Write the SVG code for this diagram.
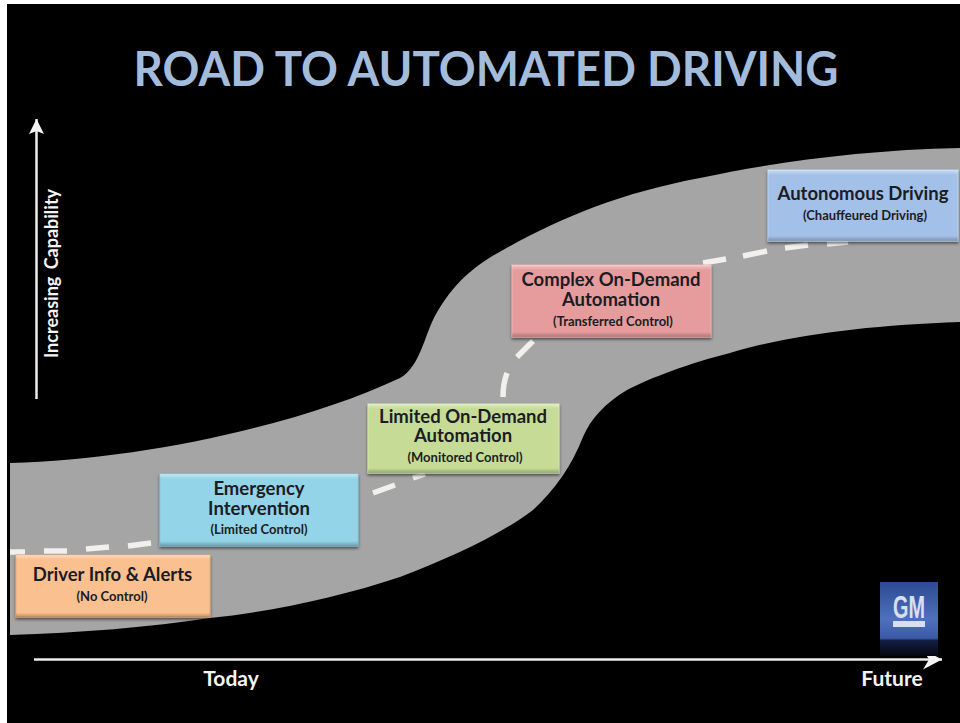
<svg xmlns="http://www.w3.org/2000/svg" width="960" height="723" viewBox="0 0 960 723">
<defs>
<filter id="blur" x="-5%" y="-5%" width="110%" height="110%"><feGaussianBlur stdDeviation="0.6"/></filter>
<filter id="shadow" x="-5%" y="-10%" width="110%" height="125%"><feDropShadow dx="0" dy="2" stdDeviation="1.5" flood-color="#000" flood-opacity="0.55"/></filter>
<linearGradient id="gm" x1="0" y1="0" x2="0" y2="1"><stop offset="0" stop-color="#2c4a92"/><stop offset="0.5" stop-color="#4f70bc"/><stop offset="0.76" stop-color="#3a5aa8"/><stop offset="0.79" stop-color="#141f44"/><stop offset="1" stop-color="#05070f"/></linearGradient>
<linearGradient id="sheen" x1="0" y1="0" x2="0" y2="1"><stop offset="0" stop-color="#fff" stop-opacity="0.45"/><stop offset="0.07" stop-color="#fff" stop-opacity="0"/><stop offset="0.93" stop-color="#000" stop-opacity="0"/><stop offset="1" stop-color="#000" stop-opacity="0.25"/></linearGradient>
<marker id="ahv" markerUnits="userSpaceOnUse" markerWidth="20" markerHeight="20" refX="16" refY="10" orient="auto"><path d="M16 10L1 2.5L4 10L1 17.5Z" fill="#f4f4f4"/></marker>
<marker id="ahh" markerUnits="userSpaceOnUse" markerWidth="24" markerHeight="24" refX="21" refY="12" orient="auto"><path d="M21 12L2 2L8 12L2 22Z" fill="#f4f4f4"/></marker>
<style>
.t{font-family:Lato,"Open Sans","Liberation Sans",sans-serif;font-weight:700;text-anchor:middle}
.h{font-size:18.5px;fill:#1c1c24}
.s{font-size:13px;fill:#1c1c24}
.w{font-size:21px;fill:#f4f4f4}
.box{stroke-width:1;filter:url(#shadow)}
.sh{fill:url(#sheen)}
</style>
</defs>
<rect width="960" height="723" fill="#fff"/>
<rect x="7" y="4" width="953" height="719" fill="#000"/>
<path id="road" fill="#a5a5a5" d="M10 463 C140 460 300 425 400 378 C418 368 424 340 432 322 C450 285 475 265 503 250 C560 218 620 193 700 178 C770 163 860 150 960 148 L960 322 C870 325 790 335 730 353 C690 363 650 378 627 390 C605 403 590 420 583 437 C572 465 555 490 533 510 C500 535 450 558 400 577 C340 597 270 612 210 618 C150 627 80 633 10 635 Z"/>
<g id="connectors" fill="none" stroke="#f2f0ec" stroke-width="5.5" filter="url(#blur)">
<path d="M10 552 H25 M44 551 H67 M86 549 L109 547 M128 546 L151 543"/>
<path d="M373 493 L395 485 M413 478 L425 474"/>
<path d="M503 397 C503 388 504 381 507 373 M517 357 L533 341"/>
<path d="M703 263 L726 259 M743 256 L767 251 M785 248 L808 245 M827 244 L848 242"/>
</g>
<g id="axes" fill="none" stroke="#ececec" stroke-width="2.5">
<path d="M36.500 399 V119" marker-end="url(#ahv)"/>
<path d="M34 659.500 H942" marker-end="url(#ahh)"/>
</g>
<text class="t" x="486" y="86" font-size="47" fill="#a4bcdc" textLength="705" lengthAdjust="spacingAndGlyphs">ROAD TO AUTOMATED DRIVING</text>
<text class="t w" transform="translate(58,273.500) rotate(-90)" style="font-size:18px;word-spacing:3px">Increasing Capability</text>
<text class="t w" x="231" y="686">Today</text>
<text class="t w" x="892" y="686">Future</text>
<g id="node-driver">
<rect class="box" x="16" y="555" width="194" height="62" fill="#fac08f" stroke="#e8ac78"/>
<rect class="sh" x="16" y="555" width="194" height="62"/>
<text class="t h" x="112.500" y="581">Driver Info &amp; Alerts</text>
<text class="t s" x="112" y="601">(No Control)</text>
</g>
<g id="node-emergency">
<rect class="box" x="160" y="474" width="198" height="72" fill="#93d4e8" stroke="#84c8e0"/>
<rect class="sh" x="160" y="474" width="198" height="72"/>
<text class="t h" x="259" y="495">Emergency</text>
<text class="t h" x="259" y="515">Intervention</text>
<text class="t s" x="259" y="534">(Limited Control)</text>
</g>
<g id="node-limited">
<rect class="box" x="368" y="404" width="191" height="69" fill="#c6dc96" stroke="#d6e6b0"/>
<rect class="sh" x="368" y="404" width="191" height="69"/>
<text class="t h" x="463" y="423">Limited On-Demand</text>
<text class="t h" x="463" y="442">Automation</text>
<text class="t s" x="465" y="462">(Monitored Control)</text>
</g>
<g id="node-complex">
<rect class="box" x="512" y="265" width="199" height="72" fill="#e69c9c" stroke="#f0b0b0"/>
<rect class="sh" x="512" y="265" width="199" height="72"/>
<text class="t h" x="611" y="286">Complex On-Demand</text>
<text class="t h" x="611" y="306">Automation</text>
<text class="t s" x="613" y="326">(Transferred Control)</text>
</g>
<g id="node-autonomous">
<rect class="box" x="768" y="170" width="190" height="71" fill="#a3c0e8" stroke="#bcd4f0"/>
<rect class="sh" x="768" y="170" width="190" height="71"/>
<text class="t h" x="863" y="200">Autonomous Driving</text>
<text class="t s" x="865" y="220">(Chauffeured Driving)</text>
</g>
<g id="logo">
<rect x="880" y="582" width="58" height="74" fill="url(#gm)"/>
<text x="893" y="618" font-family="'Liberation Sans',sans-serif" font-size="31" font-weight="700" fill="#d8e0f0" textLength="32" lengthAdjust="spacingAndGlyphs">GM</text>
<rect x="893" y="621" width="32" height="6" fill="#d8e0f0"/>
</g>
</svg>
